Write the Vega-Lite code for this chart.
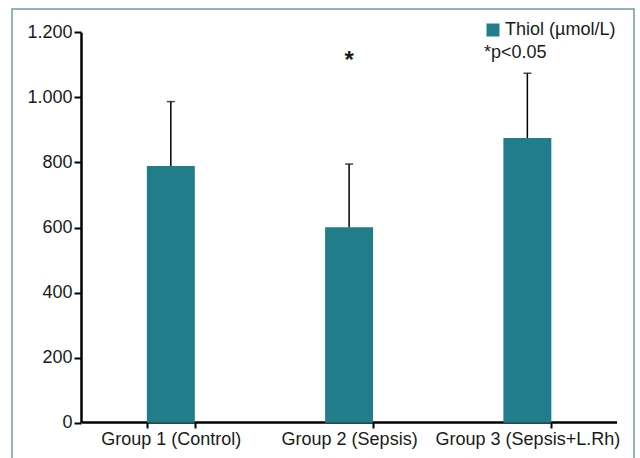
{
  "$schema": "https://vega.github.io/schema/vega-lite/v6.json",
  "width": 622,
  "height": 460,
  "padding": {"left": 12, "top": 9, "right": 6, "bottom": 0},
  "config": {
    "view": {"stroke": "#6d9ba3", "strokeWidth": 1.5},
    "font": "Liberation Sans",
    "axis": {"labelFont": "Liberation Sans", "labelColor": "#1a1a1a"},
    "legend": {"labelFont": "Liberation Sans", "titleFont": "Liberation Sans"}
  },
  "data": {
    "values": [
      {"group": "Group 1 (Control)", "series": "Thiol (µmol/L)", "mean": 789, "upper": 987, "sig": ""},
      {"group": "Group 2 (Sepsis)", "series": "Thiol (µmol/L)", "mean": 601, "upper": 795, "sig": "*"},
      {"group": "Group 3 (Sepsis+L.Rh)", "series": "Thiol (µmol/L)", "mean": 875, "upper": 1074, "sig": ""}
    ]
  },
  "encoding": {
    "x": {
      "field": "group",
      "type": "nominal",
      "sort": null,
      "scale": {"range": [69.7, 604.5], "paddingInner": 0.731, "paddingOuter": 0.3655},
      "axis": {
        "title": null,
        "labelAngle": 0,
        "labelFontSize": 18,
        "labelPadding": 2,
        "labelLimit": 400,
        "labelOverlap": false,
        "domainColor": "black",
        "domainWidth": 2.5,
        "tickColor": "black",
        "tickWidth": 2,
        "tickSize": 6,
        "tickBand": "extent",
        "offset": -47
      }
    }
  },
  "layer": [
    {
      "mark": {"type": "bar"},
      "encoding": {
        "y": {
          "field": "mean",
          "type": "quantitative",
          "scale": {"domain": [0, 1200], "nice": false, "range": [413.7, 23.3]},
          "axis": {
            "title": null,
            "grid": false,
            "values": [0, 200, 400, 600, 800, 1000, 1200],
            "labelExpr": "replace(format(datum.value, ','), ',', '.')",
            "labelFontSize": 18,
            "labelPadding": 2,
            "domainColor": "black",
            "domainWidth": 2.5,
            "tickColor": "black",
            "tickWidth": 2,
            "tickSize": 7,
            "offset": -69
          }
        },
        "color": {
          "field": "series",
          "type": "nominal",
          "scale": {"range": ["#217D89"]},
          "legend": {
            "orient": "none",
            "legendX": 472,
            "legendY": 12,
            "title": "*p<0.05",
            "titleOrient": "bottom",
            "titleFontSize": 18,
            "titleFontWeight": "normal",
            "titleColor": "#1a1a1a",
            "titlePadding": 5,
            "labelFontSize": 18,
            "labelColor": "#1a1a1a",
            "labelOffset": 3,
            "symbolType": "square",
            "symbolSize": 169,
            "symbolStrokeWidth": 0,
            "symbolOpacity": 1
          }
        }
      }
    },
    {
      "mark": {"type": "rule", "color": "black", "strokeWidth": 1.5},
      "encoding": {
        "y": {"field": "mean", "type": "quantitative"},
        "y2": {"field": "upper"}
      }
    },
    {
      "mark": {"type": "tick", "color": "black", "thickness": 1.5, "size": 8},
      "encoding": {
        "y": {"field": "upper", "type": "quantitative"}
      }
    },
    {
      "transform": [{"filter": "datum.sig != ''"}],
      "mark": {"type": "text", "fontSize": 24, "fontWeight": "bold", "color": "#1a1a1a", "baseline": "alphabetic"},
      "encoding": {
        "y": {"datum": 1090, "type": "quantitative"},
        "text": {"field": "sig"}
      }
    }
  ]
}
